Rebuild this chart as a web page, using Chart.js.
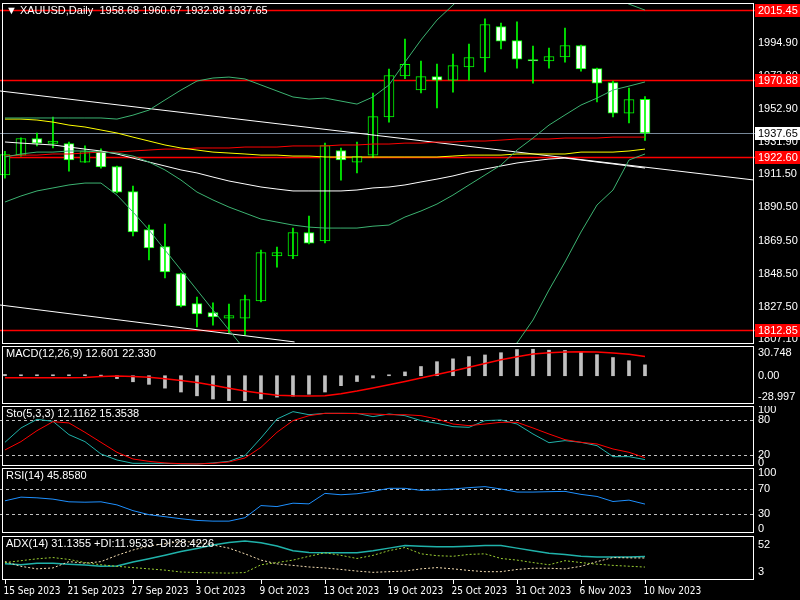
<!DOCTYPE html>
<html>
<head>
<meta charset="utf-8">
<script src="https://cdn.jsdelivr.net/npm/chart.js@4"></script>
<style>
  body { margin: 0; background: #000; width: 800px; height: 600px; overflow: hidden; }
  .pane { position: absolute; left: 0; width: 800px; }
</style>
</head>
<body>
<div class="pane" style="top:3px;height:341px"><canvas id="main"></canvas></div>
<div class="pane" style="top:346px;height:58px"><canvas id="macd"></canvas></div>
<div class="pane" style="top:406px;height:60px"><canvas id="sto"></canvas></div>
<div class="pane" style="top:468px;height:65px"><canvas id="rsi"></canvas></div>
<div class="pane" style="top:536px;height:64px"><canvas id="adx"></canvas></div>
<script>
const dates = ['15 Sep 2023', '21 Sep 2023', '27 Sep 2023', '3 Oct 2023', '9 Oct 2023', '13 Oct 2023',
    '19 Oct 2023', '25 Oct 2023', '31 Oct 2023', '6 Nov 2023', '10 Nov 2023'];

const open  = [1911.0, 1923.6, 1933.8, 1931.0, 1930.6, 1919.2, 1925.6, 1916.1, 1900.2, 1876.2, 1865.4, 1848.3, 1829.3, 1823.6,
    1820.4, 1820.4, 1831.2, 1859.7, 1859.7, 1874.3, 1869.2, 1926.2, 1919.2, 1923.6, 1947.7, 1973.7, 1964.8, 1973.0, 1971.1,
    1979.4, 1985.1, 2004.7, 1995.8, 1983.8, 1983.2, 1985.7, 1992.7, 1978.1, 1969.2, 1950.2, 1958.68];
const high  = [1926.0, 1934.5, 1937.6, 1947.7, 1931.9, 1929.4, 1927.5, 1916.7, 1904.0, 1879.3, 1880.0, 1848.9, 1833.7, 1830.0,
    1829.3, 1835.0, 1863.5, 1865.4, 1877.4, 1885.0, 1931.2, 1928.1, 1931.9, 1962.9, 1978.1, 1997.1, 1983.2, 1981.3, 1987.6,
    1993.9, 2009.8, 2007.2, 2007.9, 1992.7, 1991.4, 2004.1, 1993.3, 1978.7, 1970.5, 1966.1, 1960.67];
const low   = [1909.0, 1923.0, 1929.4, 1928.1, 1913.5, 1919.0, 1915.4, 1899.6, 1872.4, 1857.2, 1845.8, 1827.5, 1814.8, 1816.0,
    1811.0, 1809.7, 1830.6, 1852.7, 1858.0, 1867.3, 1868.0, 1907.8, 1912.3, 1922.0, 1944.5, 1972.0, 1963.0, 1953.4, 1963.5,
    1971.1, 1976.2, 1990.8, 1978.7, 1969.2, 1978.7, 1982.5, 1976.8, 1957.2, 1947.7, 1943.9, 1932.88];
const close = [1923.6, 1933.8, 1931.2, 1932.2, 1920.5, 1925.6, 1916.1, 1900.2, 1874.9, 1864.8, 1849.6, 1828.1, 1823.0, 1821.1,
    1821.7, 1831.9, 1861.6, 1861.6, 1874.3, 1867.9, 1929.4, 1920.5, 1922.4, 1947.7, 1973.7, 1980.7, 1973.0, 1971.1, 1980.0,
    1985.1, 2006.0, 1995.8, 1984.4, 1983.2, 1985.7, 1992.7, 1978.1, 1969.2, 1950.2, 1958.5, 1937.65];

const bbUpper = [1947.1, 1947.1, 1947.1, 1947.1, 1947.1, 1947.1, 1947.1, 1946.4, 1948.9, 1952.1, 1958.5, 1964.8, 1970.5, 1972.4,
    1973.0, 1971.8, 1968.0, 1964.2, 1960.4, 1959.1, 1959.7, 1957.8, 1955.9, 1960.4, 1968.0, 1982.5, 1996.5, 2009.1, 2018.6,
    2028.1, 2034.4, 2039.5, 2042.0, 2042.6, 2040.8, 2037.6, 2033.2, 2028.1, 2023.7, 2019.2, 2015.4];
const bbMiddle = [1922.4, 1924.3, 1925.5, 1925.5, 1926.2, 1926.2, 1925.5, 1924.9, 1923.0, 1919.2, 1914.2, 1907.8, 1900.2, 1895.2,
    1890.7, 1886.9, 1883.1, 1881.2, 1879.3, 1878.0, 1877.4, 1877.4, 1877.4, 1878.6, 1879.3, 1884.4, 1888.2, 1892.6, 1898.3,
    1904.7, 1911.0, 1917.3, 1926.8, 1934.4, 1942.6, 1949.0, 1955.3, 1959.7, 1964.8, 1967.3, 1969.9];
const bbLower = [1893.9, 1897.7, 1900.9, 1902.8, 1904.7, 1905.9, 1905.9, 1898.3, 1887.6, 1876.2, 1863.5, 1850.9, 1838.2, 1825.5,
    1812.9, 1800.2, 1786.3, 1774.9, 1765.4, 1759.0, 1755.9, 1754.6, 1753.3, 1752.7, 1755.9, 1762.2, 1768.5, 1774.9, 1781.2,
    1787.5, 1793.9, 1798.9, 1804.6, 1819.2, 1838.2, 1855.9, 1874.9, 1892.0, 1901.5, 1920.5, 1924.3];
const maYellow = [1946.4, 1946.4, 1945.8, 1944.5, 1942.6, 1941.4, 1939.5, 1937.6, 1935.0, 1932.5, 1930.0, 1928.1, 1926.8, 1925.5,
    1924.9, 1924.3, 1923.6, 1923.6, 1923.0, 1923.0, 1922.4, 1922.4, 1922.4, 1922.4, 1922.4, 1922.4, 1922.4, 1922.4, 1923.0,
    1923.6, 1923.6, 1923.6, 1924.3, 1924.3, 1924.3, 1924.3, 1925.5, 1925.5, 1925.5, 1926.2, 1927.4];
const maRed = [1923.0, 1923.6, 1923.6, 1924.3, 1924.3, 1924.9, 1925.5, 1925.5, 1926.2, 1926.8, 1927.4, 1927.4, 1928.1, 1928.1,
    1928.1, 1928.7, 1928.7, 1928.7, 1929.4, 1929.4, 1929.4, 1930.0, 1930.0, 1930.6, 1930.6, 1931.2, 1931.2, 1931.9, 1931.9,
    1932.5, 1932.5, 1933.1, 1933.8, 1933.8, 1933.8, 1934.4, 1934.4, 1934.4, 1935.0, 1935.0, 1935.0];
const maWhite = [1931.9, 1931.2, 1930.6, 1930.0, 1928.7, 1927.4, 1926.2, 1924.3, 1921.7, 1919.2, 1916.7, 1914.2, 1912.3, 1909.7,
    1907.2, 1905.3, 1903.4, 1902.1, 1900.9, 1900.9, 1900.9, 1900.9, 1901.5, 1902.8, 1903.4, 1904.7, 1906.6, 1908.4, 1910.4,
    1912.9, 1914.8, 1916.7, 1918.6, 1919.9, 1921.1, 1921.7, 1920.5, 1919.2, 1918.0, 1916.7, 1915.4];
// trend channel: [bar index, price]
const trendUpper = [[-0.31, 1964.2], [46.75, 1907.9]];
const trendLower = [[-0.31, 1828.7], [18.1, 1805.3]];

const levelsRed = [2015.45, 1970.88, 1922.60, 1812.85];
const lastPrice = 1937.65;
const priceTicks = [1994.90, 1973.90, 1952.90, 1931.90, 1911.50, 1890.50, 1869.50, 1848.50, 1827.50, 1807.10];

const macdHist = [1.5, 1.1, 1.1, 1.1, 1.1, 1.1, 0.7, -3.3, -7.0, -10.0, -14.4, -18.9, -23.3, -27.0, -28.9, -29.0, -27.0, -24.8,
    -23.7, -21.5, -18.9, -11.5, -6.7, -2.6, 1.1, 4.4, 10.7, 16.3, 19.6, 22.2, 24.1, 26.7, 30.4, 30.748, 29.6, 29.3, 27.8,
    24.4, 21.1, 17.4, 12.601];
const macdSignal = [-2.2, -2.2, -2.2, -2.2, -2.2, -2.0, -1.0, -0.4, -1.0, -1.9, -3.6, -5.5, -7.8, -11.0, -14.4, -17.8, -20.4,
    -22.6, -23.3, -23.5, -23.3, -20.8, -17.8, -14.2, -10.5, -6.7, -2.7, 1.4, 5.5, 9.8, 14.2, 18.5, 22.0, 25.2, 26.6, 27.4,
    27.8, 27.4, 26.4, 25.0, 22.33];

const stoMain = [41.7, 66.3, 81.1, 77.7, 54.9, 42.9, 21.7, 11.4, 5.7, 5.7, 5.7, 4.6, 4.6, 6.3, 9.1, 18.9, 49.1, 81.7, 94.3,
    89.1, 91.4, 91.4, 91.4, 85.7, 90.3, 87.4, 78.9, 74.3, 68.6, 67.4, 78.9, 80.0, 73.1, 56.0, 41.1, 44.6, 41.7, 36.0, 17.1,
    17.1, 12.12];
const stoSignal = [28.6, 42.9, 61.7, 77.1, 74.9, 58.9, 41.7, 24.6, 13.1, 9.1, 6.3, 5.1, 4.6, 5.7, 8.0, 14.9, 33.1, 58.9, 78.9,
    87.4, 91.4, 91.4, 90.9, 90.3, 89.1, 89.1, 87.4, 81.7, 73.1, 70.3, 73.1, 76.0, 76.0, 66.3, 56.0, 46.3, 41.7, 38.9, 30.3,
    24.6, 15.35];

const rsi = [51.1, 57.0, 55.9, 53.8, 49.5, 48.9, 49.5, 44.6, 35.4, 28.9, 25.7, 22.4, 19.7, 18.6, 18.6, 24.1, 43.5, 41.9, 47.3,
    46.2, 63.0, 60.8, 62.4, 66.2, 71.1, 71.1, 67.8, 68.4, 70.0, 72.2, 73.8, 70.0, 65.1, 65.1, 65.7, 66.2, 61.4, 58.1, 50.0,
    52.2, 45.86];

const adx = [17.8, 16.1, 19.0, 19.0, 17.2, 15.5, 13.3, 13.8, 21.2, 26.9, 33.2, 40.0, 45.7, 52.0, 56.6, 59.4, 56.0, 50.3, 41.7,
    38.3, 37.8, 37.8, 37.8, 41.7, 46.3, 50.9, 49.7, 48.6, 48.6, 49.7, 50.9, 50.9, 46.3, 41.7, 37.2, 34.9, 31.5, 30.3, 30.3,
    30.3, 31.14];
const plusDI = [20.1, 23.5, 26.9, 29.2, 25.8, 20.1, 16.1, 13.3, 11.0, 8.7, 6.4, 3.0, 2.0, 1.5, 1.0, 2.0, 16.1, 20.1, 24.6, 31.5,
    37.8, 33.2, 27.5, 33.2, 41.7, 47.4, 36.0, 32.6, 31.5, 34.9, 36.0, 27.5, 24.6, 20.1, 16.1, 23.5, 20.1, 17.2, 15.0, 13.5,
    11.95];
const minusDI = [21.8, 13.3, 8.7, 10.4, 21.8, 19.0, 21.8, 33.2, 42.9, 50.3, 54.3, 58.3, 57.1, 52.0, 46.3, 36.0, 24.6, 17.8,
    15.0, 12.1, 10.4, 7.6, 4.7, 2.4, 3.6, 4.7, 8.7, 11.0, 8.7, 5.8, 3.6, 3.6, 7.6, 9.8, 9.8, 8.7, 13.3, 21.8, 29.2, 28.6,
    28.42];

const FONT = '11px "Liberation Sans", Arial, sans-serif';
const DATE_FONT = '10px "DejaVu Sans Condensed", "Liberation Sans", sans-serif';
const AXIS_W = 47;
const pts = arr => arr.map((v, i) => ({ x: i, y: v }));
const line = (arr, color, extra) => Object.assign({
    type: 'line', data: pts(arr), borderColor: color, borderWidth: 1, pointRadius: 0, tension: 0
}, extra || {});

function panelPlugin(opts) {
    return {
        id: 'panel',
        beforeDraw(chart) {
            const { ctx, chartArea: a, scales: { y } } = chart;
            ctx.save();
            ctx.lineWidth = 1;
            (opts.dashed || []).forEach(v => {
                const py = Math.round(y.getPixelForValue(v)) + 0.5;
                ctx.strokeStyle = '#c0c0c0';
                ctx.setLineDash([3, 3]);
                ctx.beginPath(); ctx.moveTo(a.left, py); ctx.lineTo(a.right, py); ctx.stroke();
            });
            ctx.setLineDash([]);
            (opts.hlines || []).forEach(h => {
                const py = Math.round(y.getPixelForValue(h.v)) + 0.5;
                ctx.strokeStyle = h.color;
                ctx.lineWidth = h.width || 1;
                ctx.beginPath(); ctx.moveTo(a.left, py); ctx.lineTo(a.right + 4, py); ctx.stroke();
            });
            ctx.restore();
        },
        afterDraw(chart) {
            const { ctx, chartArea: a, scales: { x, y } } = chart;
            ctx.save();
            ctx.strokeStyle = '#ffffff';
            ctx.lineWidth = 1;
            ctx.strokeRect(a.left + 2.5, a.top + 0.5, a.right - a.left - 2, a.bottom - a.top - 1);
            ctx.font = FONT;
            ctx.textBaseline = 'middle';
            ctx.fillStyle = '#ffffff';
            (opts.ticks || []).forEach(t => {
                const py = y.getPixelForValue(t.v) + (t.dy || 0);
                ctx.fillText(t.text || t.v.toFixed(2), a.right + 5, py);
            });
            (opts.boxes || []).forEach(b => {
                const py = Math.round(y.getPixelForValue(b.v));
                ctx.fillStyle = b.bg;
                ctx.fillRect(a.right + 2, py - 6, AXIS_W - 2, 13);
                ctx.fillStyle = b.fg;
                ctx.fillText(b.v.toFixed(2), a.right + 5, py + 1);
            });
            ctx.fillStyle = '#ffffff';
            ctx.fillText(opts.title, 6, a.top + 8);
            if (opts.dates) {
                ctx.font = DATE_FONT;
                dates.forEach((d, k) => {
                    const px = Math.round(x.getPixelForValue(k * 4)) + 0.5;
                    ctx.strokeStyle = '#ffffff';
                    ctx.beginPath(); ctx.moveTo(px, a.bottom); ctx.lineTo(px, a.bottom + 4); ctx.stroke();
                    ctx.fillText(d, px - 2, a.bottom + 11);
                });
            }
            ctx.restore();
        }
    };
}

function makeChart(id, datasets, yMin, yMax, opts, padBottom) {
    return new Chart(document.getElementById(id), {
        data: { datasets },
        options: {
            responsive: true, maintainAspectRatio: false, animation: false,
            layout: { padding: { left: 0, right: AXIS_W, top: 0, bottom: padBottom || 0 } },
            plugins: { legend: { display: false }, tooltip: { enabled: false } },
            scales: {
                x: { type: 'linear', min: -0.31, max: 46.75, offset: false, display: false },
                y: { min: yMin, max: yMax, display: false }
            }
        },
        plugins: [panelPlugin(opts)]
    });
}

// main price panel
const idx = open.map((_, i) => i);
const wicks = idx.map(i => ({ x: i, y: [low[i], high[i]] }));
const bodies = idx.map(i => ({ x: i, y: [Math.min(open[i], close[i]), Math.max(open[i], close[i]) + 0.3] }));
const bodyFill = idx.map(i => close[i] < open[i] ? '#ffffff' : '#000000');
makeChart('main', [
    line(bbUpper, '#3cb371'), line(bbMiddle, '#3cb371'), line(bbLower, '#3cb371'),
    line(maWhite, '#ffffff'), line(maYellow, '#ffff00'), line(maRed, '#ff0000'),
    line(trendUpper.map(p => p[1]), '#ffffff', { data: trendUpper.map(p => ({ x: p[0], y: p[1] })) }),
    line(trendLower.map(p => p[1]), '#ffffff', { data: trendLower.map(p => ({ x: p[0], y: p[1] })) }),
    { type: 'bar', data: wicks, backgroundColor: '#00ff00', barThickness: 1, grouped: false },
    { type: 'bar', data: bodies, backgroundColor: bodyFill, borderColor: '#00ff00', borderWidth: 1,
      borderSkipped: false, barThickness: 10, grouped: false }
], 1804.0, 2019.9, {
    title: '\u25BC XAUUSD,Daily  1958.68 1960.67 1932.88 1937.65',
    hlines: levelsRed.map(v => ({ v, color: '#ff0000', width: 1.5 })).concat([{ v: lastPrice, color: '#778899' }]),
    ticks: priceTicks.map(v => ({ v })),
    boxes: levelsRed.map(v => ({ v, bg: '#ff0000', fg: '#ffffff' })).concat([{ v: lastPrice, bg: '#ffffff', fg: '#000000' }])
});

makeChart('macd', [
    line(macdSignal, '#ff0000', { borderWidth: 1.5 }),
    { type: 'bar', data: pts(macdHist), backgroundColor: '#c0c0c0', barThickness: 3 }
], -32.8, 34.5, {
    title: 'MACD(12,26,9) 12.601 22.330',
    ticks: [{ v: 30.748, text: '30.748', dy: 4 }, { v: 0, text: '0.00' }, { v: -28.997, text: '-28.997', dy: -4 }]
});

makeChart('sto', [line(stoSignal, '#ff0000'), line(stoMain, '#20b2aa')], 1.1, 104, {
    title: 'Sto(5,3,3) 12.1162 15.3538', dashed: [80, 20],
    ticks: [{ v: 100, text: '100', dy: 2 }, { v: 80, text: '80' }, { v: 20, text: '20' }, { v: 0, text: '0', dy: -4 }]
});

makeChart('rsi', [line(rsi, '#1e90ff')], -0.4, 103.6, {
    title: 'RSI(14) 45.8580', dashed: [70, 30],
    ticks: [{ v: 100, text: '100', dy: 3 }, { v: 70, text: '70' }, { v: 30, text: '30' }, { v: 0, text: '0', dy: -4 }]
});

makeChart('adx', [
    line(plusDI, '#9acd32', { borderDash: [2, 2] }),
    line(minusDI, '#f5deb3', { borderDash: [2, 2] }),
    line(adx, '#20b2aa', { borderWidth: 1.5 })
], -11.5, 68.3, {
    title: 'ADX(14) 31.1355 +DI:11.9533 -DI:28.4226', dates: true,
    ticks: [{ v: 52, text: '52' }, { v: 3, text: '3' }]
}, 20);
</script>
</body>
</html>
